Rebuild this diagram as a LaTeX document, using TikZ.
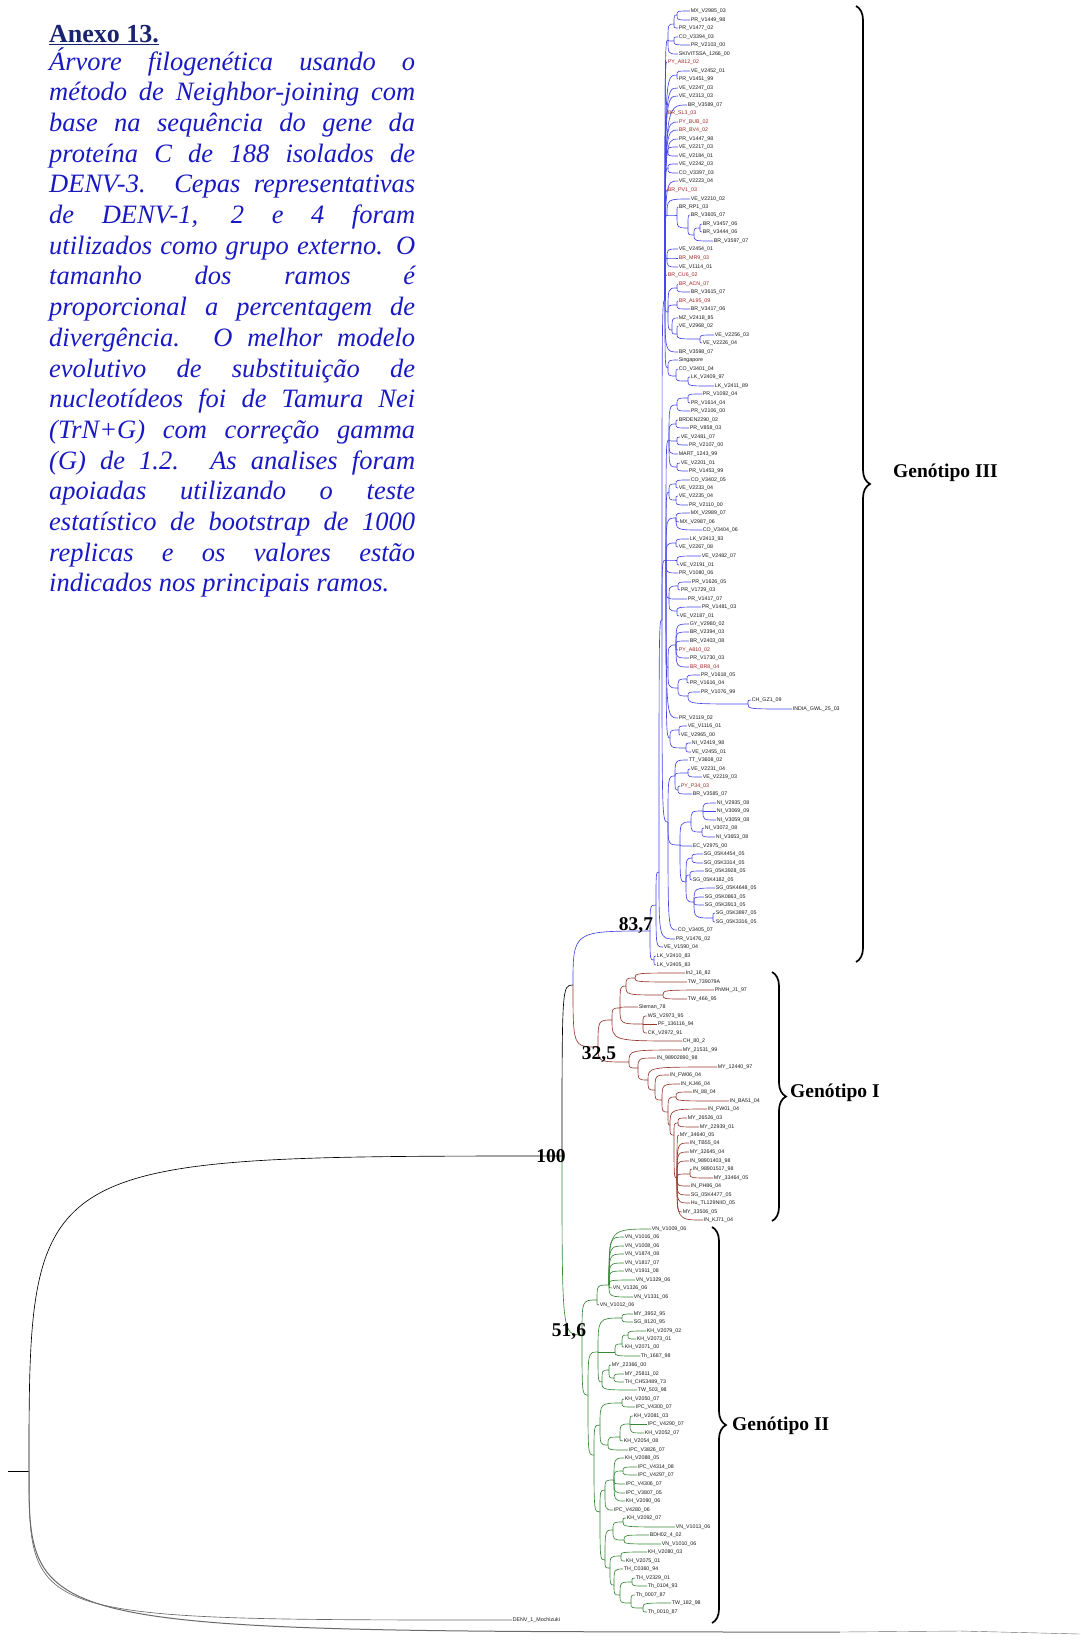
\documentclass[tikz,border=0pt]{standalone}
\usepackage{fontspec}
\setmainfont{Liberation Serif}
\newfontfamily\leaffont{Liberation Sans}
\usetikzlibrary{decorations.pathreplacing}

\definecolor{cladeIII}{RGB}{70,70,232}
\definecolor{cladeI}{RGB}{150,55,45}
\definecolor{cladeII}{RGB}{55,135,55}
\definecolor{isored}{RGB}{160,35,35}
\definecolor{capblue}{RGB}{25,25,195}
\definecolor{capnavy}{RGB}{25,35,110}
\definecolor{outgray}{RGB}{105,105,105}

\newcounter{lfc}
\tikzset{
  leaf/.style={anchor=west, inner sep=0.6pt, font=\leaffont\fontsize{5.3}{6}\selectfont, text=black!90},
  redleaf/.style={leaf, text=isored},
  branch/.style={line width=0.65pt},
  boot/.style={font=\bfseries\fontsize{19.5}{20}\selectfont, text=black, inner sep=0pt},
  genolabel/.style={font=\bfseries\fontsize{19.5}{21}\selectfont, anchor=west, inner sep=0pt, text=black},
  bracket/.style={decorate, decoration={brace, amplitude=14pt}, line width=1.7pt, black},
  capline/.style={anchor=base west, inner sep=0pt, text=capblue, font=\itshape\fontsize{26.5}{30}\selectfont},
}
% internal node, edge between two internal nodes, edge to a labelled tip
\newcommand\cn[3]{\coordinate (#1) at (#2,#3);}
\newcommand\ed[2]{\draw[branch] (#1) .. controls (#1 |- #2) .. (#2);}
\newcommand\lfx[5]{\stepcounter{lfc}\edef\curlf{lf\number\value{lfc}}%
  \node[#1] (\curlf) at (#3,#4) {\detokenize{#5}};
  \draw[branch] (#2) .. controls (#2 |- 0,#4) .. (\curlf.west);}
\newcommand\lf[4]{\lfx{leaf}{#1}{#2}{#3}{#4}}
\newcommand\lr[4]{\lfx{redleaf}{#1}{#2}{#3}{#4}}

\begin{document}
\begin{tikzpicture}[x=1pt,y=-1pt]
\useasboundingbox (0,0) rectangle (1080,1647);

% ---------- caption ----------
\node[anchor=base west, inner sep=0pt, text=capnavy, font=\bfseries\fontsize{26}{28}\selectfont] (anexo) at (49,42) {\underline{Anexo 13.}};
\foreach [count=\k] \t in {%
  {Árvore filogenética usando o},
  {método de Neighbor-joining com},
  {base na sequência do gene da},
  {proteína C de 188 isolados de},
  {DENV-3. Cepas representativas},
  {de DENV-1, 2 e 4 foram},
  {utilizados como grupo externo. O},
  {tamanho dos ramos é},
  {proporcional a percentagem de},
  {divergência. O melhor modelo},
  {evolutivo de substituição de},
  {nucleotídeos foi de Tamura Nei},
  {(TrN+G) com correção gamma},
  {(G) de 1.2. As analises foram},
  {apoiadas utilizando o teste},
  {estatístico de bootstrap de 1000},
  {replicas e os valores estão}}
  {\node[capline] (cap\k) at (49,{70+30.7*(\k-1)}) {\makebox[366pt][s]{\t}};}
\node[capline] (cap18) at (49,{70+30.7*17}) {indicados nos principais ramos.};

% ---------- root and outgroups ----------
\cn{Rs}{8}{1471}
\cn{R}{29}{1471}
\cn{N100}{562}{1156}
\cn{N31}{573}{985}
\cn{OG}{840}{1632}
\cn{OGa}{960}{1631}
\cn{OGb}{1080}{1634}
\draw[branch] (Rs) -- (R);
\ed{R}{N100}
\draw[branch, outgray, line width=1pt] (R) .. controls (R |- OG) .. (OG);
\draw[branch, outgray, line width=0.4pt] (OG) -- (OGa) -- (OGb);
\node[leaf] (denv1) at (512,1620) {DENV\_1\_Mochizuki};
\draw[branch, outgray] (R) .. controls (R |- denv1.west) .. (denv1.west);
\ed{N100}{N31}

% ---------- genotype III ----------
\begin{scope}[cladeIII]
\cn{G3}{650}{931}\cn{B0}{656}{905}\cn{B1}{659}{872}\cn{B2}{662}{620}
\cn{HT}{665}{300}\cn{HM}{666}{560}\cn{HR}{668}{822}\cn{LKn}{654}{960}
\cn{a0}{668}{40}\cn{a1}{674}{24}\cn{a11}{677}{15}\cn{a2}{674}{41}
\cn{b0}{677}{75}\cn{c0}{668}{152}\cn{d0}{668}{168}
\cn{e0}{667}{215}\cn{e1}{677}{215}\cn{e2}{688}{228}\cn{e3}{694}{235}\cn{e4}{700}{228}
\cn{f0}{667}{258}
\cn{g0}{668}{312}\cn{g1}{677}{288}\cn{g2}{677}{305}\cn{g3}{672}{330}\cn{g4}{677}{334}\cn{g5}{700}{339}
\cn{h0}{668}{368}\cn{h1}{676}{376}\cn{h2}{688}{381}
\cn{i0}{669}{440}\cn{i1}{677}{405}\cn{i2}{688}{398}\cn{i3}{676}{424}\cn{i4}{677}{441}\cn{i5}{677}{467}
\cn{j0}{669}{492}\cn{j1}{676}{484}\cn{j2}{676}{500}
\cn{k1}{676}{518}\cn{l1}{676}{543}\cn{l2}{677}{560}
\cn{m0}{669}{598}\cn{m1}{678}{586}\cn{m2}{677}{611}
\cn{p0}{668}{668}\cn{n0}{676}{645}\cn{o0}{678}{688}\cn{o1}{687}{679}\cn{o2}{688}{696}\cn{o3}{748}{704}
\cn{q0}{670}{738}\cn{q1}{679}{730}\cn{q2}{686}{748}
\cn{r1}{675}{776}\cn{r2}{688}{773}\cn{r3}{678}{790}
\cn{u0}{680}{845}\cn{s0}{691}{822}\cn{s1}{703}{811}\cn{s2}{702}{832}
\cn{t0}{686}{882}\cn{t1}{692}{858}\cn{t2}{690}{875}\cn{t3}{694}{902}\cn{t4}{713}{918}
\ed{N31}{G3}
\ed{G3}{B0}\ed{G3}{LKn}\ed{B0}{B1}\ed{B1}{B2}\ed{B2}{HT}\ed{B2}{HM}\ed{B2}{HR}
\ed{HT}{a0}\ed{a0}{a1}\ed{a0}{a2}\ed{a1}{a11}
\ed{HT}{b0}\ed{HT}{c0}\ed{HT}{d0}\ed{HT}{e0}\ed{e0}{e1}\ed{e1}{e2}\ed{e2}{e3}\ed{e3}{e4}
\ed{HT}{f0}\ed{HT}{g0}\ed{g0}{g1}\ed{g0}{g2}\ed{g0}{g3}\ed{g3}{g4}\ed{g4}{g5}
\ed{HT}{h0}\ed{h0}{h1}\ed{h1}{h2}
\ed{HM}{i0}\ed{i0}{i1}\ed{i1}{i2}\ed{i0}{i3}\ed{i0}{i4}\ed{i0}{i5}
\ed{HM}{j0}\ed{j0}{j1}\ed{j0}{j2}\ed{HM}{k1}\ed{HM}{l1}\ed{HM}{l2}
\ed{HM}{m0}\ed{m0}{m1}\ed{m0}{m2}
\ed{HM}{p0}\ed{p0}{n0}\ed{p0}{o0}\ed{o0}{o1}\ed{o0}{o2}\ed{o2}{o3}
\ed{HM}{q0}\ed{q0}{q1}\ed{q0}{q2}
\ed{HR}{r1}\ed{r1}{r2}\ed{r1}{r3}\ed{HR}{u0}\ed{u0}{s0}\ed{s0}{s1}\ed{s0}{s2}
\ed{u0}{t0}\ed{t0}{t1}\ed{t0}{t2}\ed{t0}{t3}\ed{t3}{t4}
\lf{a11}{690}{11}{MX_V2985_03}
\lf{a11}{690}{20}{PR_V1449_98}
\lf{a1}{678}{28}{PR_V1477_02}
\lf{a2}{678}{37}{CO_V3394_03}
\lf{a2}{690}{45}{PR_V2103_00}
\lf{a0}{678}{54}{SKIVITSSA_1266_00}
\lr{HT}{667}{62}{PY_A812_02}
\lf{b0}{690}{71}{VE_V2452_01}
\lf{b0}{678}{79}{PR_V1451_99}
\lf{HT}{678}{88}{VE_V2247_03}
\lf{HT}{678}{96}{VE_V2313_03}
\lf{HT}{687}{105}{BR_V3589_07}
\lr{HT}{667}{113}{BR_SL3_03}
\lr{HT}{678}{122}{PY_BUB_02}
\lr{HT}{678}{130}{BR_BV4_02}
\lf{HT}{678}{139}{PR_V1447_98}
\lf{c0}{678}{147}{VE_V2217_03}
\lf{c0}{678}{156}{VE_V2184_01}
\lf{d0}{678}{164}{VE_V2242_03}
\lf{d0}{678}{173}{CO_V3397_03}
\lf{HT}{678}{181}{VE_V2223_04}
\lr{HT}{667}{190}{BR_PV1_03}
\lf{e0}{690}{199}{VE_V2210_02}
\lf{e1}{678}{207}{BR_RP1_03}
\lf{e2}{690}{215}{BR_V3605_07}
\lf{e4}{702}{224}{BR_V3457_06}
\lf{e4}{702}{232}{BR_V3444_06}
\lf{e3}{713}{241}{BR_V3597_07}
\lf{f0}{678}{249}{VE_V2454_01}
\lr{f0}{678}{258}{BR_MR9_03}
\lf{f0}{678}{267}{VE_V1114_01}
\lr{HT}{667}{275}{BR_CU6_02}
\lr{g1}{678}{284}{BR_ACN_07}
\lf{g1}{690}{292}{BR_V3615_07}
\lr{g2}{678}{301}{BR_AL95_09}
\lf{g2}{690}{309}{BR_V3417_06}
\lf{g3}{678}{318}{MZ_V2418_85}
\lf{g4}{678}{326}{VE_V2968_02}
\lf{g5}{714}{335}{VE_V2256_03}
\lf{g5}{702}{343}{VE_V2226_04}
\lf{HT}{678}{352}{BR_V3598_07}
\lf{h0}{678}{360}{Singapore}
\lf{h1}{678}{369}{CO_V3401_04}
\lf{h2}{690}{377}{LK_V2409_97}
\lf{h2}{714}{386}{LK_V2411_89}
\lf{i2}{702}{394}{PR_V1092_04}
\lf{i2}{690}{403}{PR_V1614_04}
\lf{i1}{690}{411}{PR_V2106_00}
\lf{i3}{678}{420}{BRDEN2290_02}
\lf{i3}{689}{428}{PR_V858_03}
\lf{i4}{680}{437}{VE_V2481_07}
\lf{i4}{688}{445}{PR_V2107_00}
\lf{i0}{678}{454}{MART_1243_99}
\lf{i5}{680}{463}{VE_V2201_01}
\lf{i5}{688}{471}{PR_V1453_99}
\lf{j1}{690}{480}{CO_V3402_05}
\lf{j1}{678}{488}{VE_V2233_04}
\lf{j2}{678}{496}{VE_V2235_04}
\lf{j2}{688}{505}{PR_V2110_00}
\lf{k1}{690}{513}{MX_V2989_07}
\lf{k1}{679}{522}{MX_V2987_06}
\lf{k1}{702}{530}{CO_V3404_06}
\lf{l1}{689}{539}{LK_V2413_93}
\lf{l1}{678}{547}{VE_V2267_08}
\lf{l2}{701}{556}{VE_V2482_07}
\lf{l2}{679}{565}{VE_V2191_01}
\lf{HM}{678}{573}{PR_V1080_06}
\lf{m1}{691}{582}{PR_V1626_05}
\lf{m1}{680}{590}{PR_V1729_03}
\lf{m0}{687}{599}{PR_V1417_07}
\lf{m2}{701}{607}{PR_V1481_03}
\lf{m2}{679}{616}{VE_V2187_01}
\lf{n0}{689}{624}{GY_V2980_02}
\lf{n0}{689}{632}{BR_V2394_03}
\lf{n0}{689}{641}{BR_V2403_08}
\lr{n0}{678}{650}{PY_A810_02}
\lf{n0}{689}{658}{PR_V1730_03}
\lr{n0}{689}{667}{BR_BR8_04}
\lf{o1}{700}{675}{PR_V1618_05}
\lf{o1}{689}{683}{PR_V1616_04}
\lf{o2}{700}{692}{PR_V1076_99}
\lf{o3}{751}{700}{CH_GZ1_09}
\lf{o3}{792}{709}{INDIA_GWL_25_03}
\lf{HM}{678}{718}{PR_V2119_02}
\lf{q1}{687}{726}{VE_V1116_01}
\lf{q1}{680}{735}{VE_V2965_00}
\lf{q2}{691}{743}{NI_V2419_98}
\lf{q2}{691}{752}{VE_V2455_01}
\lf{r1}{688}{760}{TT_V3608_02}
\lf{r2}{690}{769}{VE_V2231_04}
\lf{r2}{702}{777}{VE_V2219_03}
\lr{r3}{680}{786}{PY_P34_03}
\lf{r3}{692}{794}{BR_V3585_07}
\lf{s1}{716}{803}{NI_V2935_08}
\lf{s1}{716}{811}{NI_V3069_09}
\lf{s1}{716}{820}{NI_V3059_08}
\lf{s2}{704}{828}{NI_V3072_08}
\lf{s2}{715}{837}{NI_V3653_08}
\lf{u0}{692}{846}{EC_V2975_00}
\lf{t1}{703}{854}{SG_05K4454_05}
\lf{t1}{703}{863}{SG_05K3314_05}
\lf{t2}{704}{871}{SG_05K3928_05}
\lf{t2}{692}{880}{SG_05K4182_05}
\lf{t3}{715}{888}{SG_05K4648_05}
\lf{t3}{704}{897}{SG_05K0863_05}
\lf{t3}{704}{905}{SG_05K3913_05}
\lf{t4}{715}{913}{SG_05K3897_05}
\lf{t4}{715}{922}{SG_05K3316_05}
\lf{HR}{677}{930}{CO_V3405_07}
\lf{B1}{675}{939}{PR_V1476_02}
\lf{B0}{663}{947}{VE_V1590_04}
\lf{LKn}{656}{956}{LK_V2410_83}
\lf{LKn}{656}{965}{LK_V2405_83}
\end{scope}

% ---------- genotype I ----------
\begin{scope}[cladeI]
\cn{N1}{598}{1047}
\cn{Ai8}{612}{1020}\cn{Ai9}{620}{1008}\cn{Ai3}{626}{986}\cn{Ai1}{635}{978}\cn{Ai2}{663}{995}\cn{Ai5}{643}{1024}
\cn{AJ1}{629}{1062}\cn{AJ2}{638}{1068}\cn{AJ3}{648}{1080}\cn{AJ4}{655}{1090}\cn{AJ5}{662}{1100}
\cn{AJ6}{668}{1112}\cn{AJ7}{676}{1097}\cn{AJ8}{670}{1125}\cn{AJ9}{674}{1135}\cn{AJ10}{678}{1123}
\cn{AJ11}{677}{1178}\cn{AJ12}{690}{1174}
\ed{N31}{N1}
\ed{N1}{Ai8}\ed{N1}{AJ1}\ed{Ai8}{Ai9}\ed{Ai9}{Ai3}\ed{Ai9}{Ai5}\ed{Ai3}{Ai1}\ed{Ai3}{Ai2}
\ed{AJ1}{AJ2}\ed{AJ2}{AJ3}\ed{AJ3}{AJ4}\ed{AJ4}{AJ5}\ed{AJ5}{AJ6}\ed{AJ6}{AJ7}\ed{AJ6}{AJ8}
\ed{AJ8}{AJ9}\ed{AJ9}{AJ10}\ed{AJ9}{AJ11}\ed{AJ11}{AJ12}
\lf{Ai1}{685}{973}{InJ_16_82}
\lf{Ai1}{687}{982}{TW_739079A}
\lf{Ai2}{714}{990}{PhMH_J1_97}
\lf{Ai2}{687}{999}{TW_466_95}
\lf{Ai9}{638}{1007}{Sleman_78}
\lf{Ai5}{647}{1016}{WS_V2973_95}
\lf{Ai5}{657}{1024}{PF_136116_94}
\lf{Ai5}{647}{1033}{CK_V2972_91}
\lf{Ai8}{682}{1041}{CH_80_2}
\lf{AJ1}{682}{1050}{MY_21531_99}
\lf{AJ2}{656}{1058}{IN_98902890_98}
\lf{AJ3}{717}{1067}{MY_12440_97}
\lf{AJ4}{669}{1075}{IN_FW06_04}
\lf{AJ5}{680}{1084}{IN_KJ46_04}
\lf{AJ7}{692}{1092}{IN_88_04}
\lf{AJ7}{729}{1101}{IN_BA51_04}
\lf{AJ8}{707}{1109}{IN_FW01_04}
\lf{AJ10}{687}{1118}{MY_26526_03}
\lf{AJ10}{699}{1127}{MY_22939_01}
\lf{AJ11}{679}{1135}{MY_34640_05}
\lf{AJ11}{689}{1143}{IN_TB55_04}
\lf{AJ11}{689}{1152}{MY_32645_04}
\lf{AJ11}{689}{1161}{IN_98901403_98}
\lf{AJ12}{692}{1169}{IN_98901517_98}
\lf{AJ12}{713}{1178}{MY_33464_05}
\lf{AJ11}{690}{1186}{IN_PH86_04}
\lf{AJ11}{690}{1195}{SG_05K4477_05}
\lf{AJ11}{690}{1203}{Hu_TL129NIID_05}
\lf{AJ11}{682}{1212}{MY_33506_05}
\lf{AJ11}{703}{1220}{IN_KJ71_04}
\end{scope}

% ---------- genotype II ----------
\begin{scope}[cladeII]
\cn{N2}{582}{1335}\cn{VNc}{597}{1300}\cn{VNa}{609}{1285}\cn{G2b}{588}{1395}
\cn{W8}{598}{1352}\cn{W1}{622}{1318}\cn{W4}{615}{1352}\cn{W3}{622}{1344}\cn{W2}{628}{1335}
\cn{W7}{602}{1382}\cn{W5}{609}{1370}\cn{W6}{614}{1378}
\cn{WL1}{594}{1455}\cn{X5}{600}{1425}\cn{X1}{622}{1403}\cn{X4}{608}{1445}\cn{X3}{620}{1437}\cn{X2}{630}{1424}
\cn{WL2}{600}{1512}\cn{Y0}{605}{1490}\cn{Y1}{614}{1480}\cn{Y2}{623}{1471}
\cn{WL3}{605}{1560}\cn{Z0}{613}{1530}\cn{Z1}{623}{1522}\cn{Z2}{624}{1540}
\cn{A0}{610}{1568}\cn{A1}{621}{1556}\cn{Bg0}{614}{1585}\cn{Bg1}{620}{1595}\cn{Bg2}{632}{1582}
\cn{Bg3}{631}{1603}\cn{Bg4}{643}{1608}
\ed{N100}{N2}
\ed{N2}{VNc}\ed{N2}{G2b}\ed{VNc}{VNa}\ed{G2b}{W8}\ed{G2b}{WL1}\ed{W8}{W1}\ed{W8}{W4}\ed{W8}{W7}
\ed{W4}{W3}\ed{W3}{W2}\ed{W7}{W5}\ed{W5}{W6}\ed{WL1}{X5}\ed{WL1}{WL2}\ed{X5}{X1}\ed{X5}{X4}
\ed{X4}{X3}\ed{X3}{X2}\ed{WL2}{Y0}\ed{WL2}{WL3}\ed{Y0}{Y1}\ed{Y1}{Y2}\ed{WL3}{Z0}\ed{WL3}{A0}
\ed{Z0}{Z1}\ed{Z0}{Z2}\ed{A0}{A1}\ed{A0}{Bg0}\ed{Bg0}{Bg1}\ed{Bg1}{Bg2}\ed{Bg1}{Bg3}\ed{Bg3}{Bg4}
\lf{VNa}{651}{1229}{VN_V1009_06}
\lf{VNa}{624}{1237}{VN_V1016_06}
\lf{VNa}{624}{1246}{VN_V1008_06}
\lf{VNa}{624}{1254}{VN_V1874_08}
\lf{VNa}{624}{1263}{VN_V1817_07}
\lf{VNa}{624}{1271}{VN_V1911_08}
\lf{VNa}{635}{1280}{VN_V1329_06}
\lf{VNa}{612}{1288}{VN_V1326_06}
\lf{VNa}{633}{1297}{VN_V1331_06}
\lf{VNc}{599}{1305}{VN_V1012_06}
\lf{W1}{633}{1314}{MY_3952_95}
\lf{W1}{633}{1322}{SG_8120_95}
\lf{W2}{646}{1331}{KH_V2079_02}
\lf{W2}{636}{1339}{KH_V2073_01}
\lf{W3}{624}{1347}{KH_V2071_00}
\lf{W4}{640}{1356}{Th_1687_98}
\lf{W5}{611}{1365}{MY_22366_00}
\lf{W6}{624}{1374}{MY_25811_02}
\lf{W6}{624}{1382}{TH_CH53489_73}
\lf{W7}{637}{1390}{TW_503_98}
\lf{X1}{624}{1399}{KH_V2050_07}
\lf{X1}{635}{1407}{IPC_V4300_07}
\lf{X2}{633}{1416}{KH_V2081_03}
\lf{X2}{647}{1424}{IPC_V4290_07}
\lf{X2}{644}{1433}{KH_V2052_07}
\lf{X3}{623}{1441}{KH_V2054_08}
\lf{X4}{628}{1450}{IPC_V3826_07}
\lf{Y1}{624}{1458}{KH_V2088_05}
\lf{Y2}{637}{1467}{IPC_V4314_08}
\lf{Y2}{637}{1475}{IPC_V4297_07}
\lf{Y1}{625}{1484}{IPC_V4306_07}
\lf{Y1}{625}{1493}{IPC_V3807_05}
\lf{Y1}{625}{1501}{KH_V2090_06}
\lf{Y0}{613}{1510}{IPC_V4280_06}
\lf{Z1}{626}{1518}{KH_V2092_07}
\lf{Z1}{675}{1527}{VN_V1013_06}
\lf{Z2}{649}{1535}{BDH02_4_02}
\lf{Z2}{661}{1544}{VN_V1010_06}
\lf{A1}{647}{1552}{KH_V2080_03}
\lf{A1}{625}{1561}{KH_V2075_01}
\lf{Bg0}{623}{1569}{TH_C0360_94}
\lf{Bg2}{635}{1578}{TH_V2329_01}
\lf{Bg2}{647}{1586}{Th_0104_93}
\lf{Bg3}{635}{1595}{Th_0007_87}
\lf{Bg4}{671}{1603}{TW_182_98}
\lf{Bg4}{647}{1612}{Th_0010_87}
\end{scope}

% ---------- bootstrap support ----------
\node[boot] (b100) at (551,1156) {100};
\node[boot] (b837) at (636,926) {83,7};
\node[boot] (b325) at (599,1055) {32,5};
\node[boot] (b516) at (569,1332) {51,6};

% ---------- genotype brackets ----------
\coordinate (br3a) at (856,6);   \coordinate (br3b) at (856,962);
\coordinate (br1a) at (772,972); \coordinate (br1b) at (772,1221);
\coordinate (br2a) at (712,1227);\coordinate (br2b) at (712,1623);
\draw[bracket] (br3a) -- (br3b);
\draw[bracket] (br1a) -- (br1b);
\draw[bracket] (br2a) -- (br2b);
\node[genolabel] (g3lab) at (893,473) {Genótipo III};
\node[genolabel] (g1lab) at (790,1093) {Genótipo I};
\node[genolabel] (g2lab) at (732,1426) {Genótipo II};
\end{tikzpicture}
\end{document}
